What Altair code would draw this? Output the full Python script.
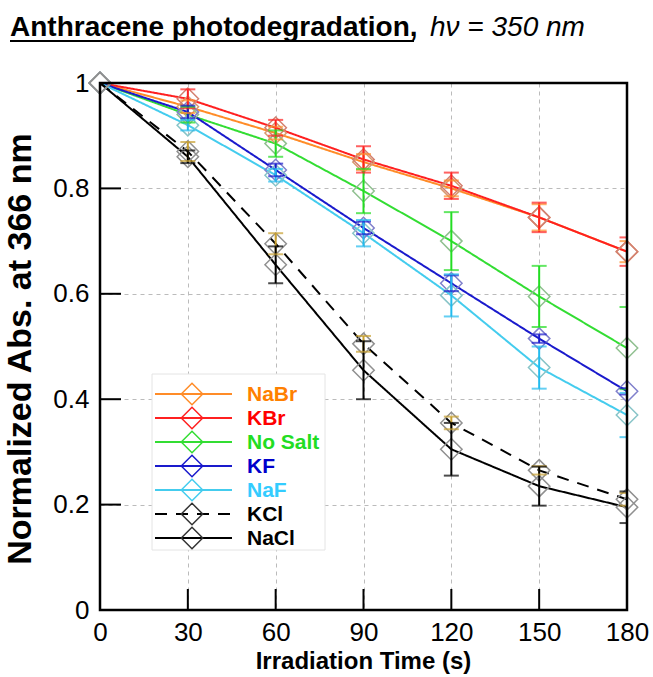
import altair as alt
import pandas as pd

# Irradiation times (s)
times = [0, 30, 60, 90, 120, 150, 180]

series = ["NaBr", "KBr", "No Salt", "KF", "NaF", "KCl", "NaCl"]

# Normalized absorbance at 366 nm
nabr = [1.0, 0.955, 0.905, 0.850, 0.800, 0.745, 0.680]
kbr = [1.0, 0.970, 0.915, 0.855, 0.805, 0.745, 0.680]
nosalt = [1.0, 0.940, 0.885, 0.795, 0.700, 0.595, 0.497]
kf = [1.0, 0.945, 0.835, 0.725, 0.620, 0.515, 0.415]
naf = [1.0, 0.920, 0.825, 0.715, 0.597, 0.460, 0.370]
kcl = [1.0, 0.870, 0.695, 0.505, 0.355, 0.265, 0.210]
nacl = [1.0, 0.860, 0.655, 0.455, 0.305, 0.235, 0.195]

# Half-widths of the error bars
nabr_err = [0, 0.012, 0.012, 0.015, 0.015, 0.025, 0.020]
kbr_err = [0, 0.018, 0.015, 0.025, 0.025, 0.028, 0.027]
nosalt_err = [0, 0.015, 0.025, 0.042, 0.055, 0.058, 0.078]
kf_err = [0, 0.012, 0.012, 0.012, 0.015, 0.008, 0.006]
naf_err = [0, 0.010, 0.012, 0.025, 0.040, 0.040, 0.042]
kcl_err = [0, 0.018, 0.020, 0.015, 0.012, 0.008, 0.012]
nacl_err = [0, 0.012, 0.035, 0.055, 0.050, 0.037, 0.030]

x_ticks = [30, 60, 90, 120, 150]
y_ticks = [0.2, 0.4, 0.6, 0.8]

values = [nabr, kbr, nosalt, kf, naf, kcl, nacl]
errors = [nabr_err, kbr_err, nosalt_err, kf_err, naf_err, kcl_err, nacl_err]

line_colors = ["#FF8C28", "#FF2020", "#33DD33", "#1A1ACC", "#44CCEE", "#000000", "#000000"]
err_colors = ["#FF8C28", "#FF2020", "#22DD22", "#1A1ACC", "#22BBEE", "#C8A030", "#000000"]
marker_colors = ["#D89A70", "#D48070", "#90C090", "#8080CC", "#88C4C8", "#909090", "#909090"]
label_colors = ["#FF8000", "#FF0000", "#22DD22", "#0000CC", "#33CCFF", "#000000", "#000000"]
dashes = [[1, 0], [1, 0], [1, 0], [1, 0], [1, 0], [12, 9], [1, 0]]

rows = []
for name, vals, errs in zip(series, values, errors):
    for t, v, e in zip(times, vals, errs):
        rows.append({"series": name, "t": t, "v": v, "lo": v - e, "hi": v + e})
df = pd.DataFrame(rows)

W, H = 527, 527
FONT = "Liberation Sans"

xs = alt.Scale(domain=[0, 180], nice=False)
ys = alt.Scale(domain=[0, 1], nice=False)

x_enc = alt.X("t:Q", scale=xs, axis=alt.Axis(
    values=times, title=None, ticks=False, domain=False, labelFontSize=26,
    labelPadding=9, labelColor="black", labelFont=FONT, labelFlush=False,
    labelOverlap=False, grid=True, gridDash=[4, 4], gridColor="#BBBBBB", gridWidth=1))
y_enc = alt.Y("v:Q", scale=ys, axis=alt.Axis(
    values=[0, 0.2, 0.4, 0.6, 0.8, 1.0], format=".1~f", title=None, ticks=False,
    domain=False, labelFontSize=26, labelPadding=11, labelColor="black",
    labelFont=FONT, labelFlush=False, labelOverlap=False,
    grid=True, gridDash=[4, 4], gridColor="#BBBBBB", gridWidth=1))

base = alt.Chart(df)

lines = base.mark_line(strokeWidth=2).encode(
    x=x_enc, y=y_enc,
    color=alt.Color("series:N", scale=alt.Scale(domain=series, range=line_colors), legend=None),
    strokeDash=alt.StrokeDash("series:N", scale=alt.Scale(domain=series, range=dashes), legend=None),
)

bars_src = base.transform_filter("datum.t > 0")
err_color = alt.Color("series:N", scale=alt.Scale(domain=series, range=err_colors), legend=None)
err_rules = bars_src.mark_rule(strokeWidth=2, clip=True).encode(
    x="t:Q", y="lo:Q", y2="hi:Q", color=err_color)
caps_lo = bars_src.mark_tick(orient="horizontal", size=15, thickness=2, clip=True).encode(
    x="t:Q", y="lo:Q", color=err_color)
caps_hi = bars_src.mark_tick(orient="horizontal", size=15, thickness=2, clip=True).encode(
    x="t:Q", y="hi:Q", color=err_color)

markers = base.mark_point(shape="diamond", size=460, filled=False, strokeWidth=1.5, opacity=1).encode(
    x="t:Q", y="v:Q",
    color=alt.Color("series:N", scale=alt.Scale(domain=series, range=marker_colors), legend=None),
)

# inward ticks along the bottom and left edges
xt = alt.Chart(pd.DataFrame({"t": x_ticks})).mark_rule(color="black", strokeWidth=2).encode(
    x="t:Q", y=alt.value(H), y2=alt.value(H - 21))
yt = alt.Chart(pd.DataFrame({"v": y_ticks})).mark_rule(color="black", strokeWidth=2).encode(
    y="v:Q", x=alt.value(0), x2=alt.value(21))

one = alt.Data(values=[{}])

# plot frame drawn above the grid
frame = alt.Chart(one).mark_rect(fill=None, stroke="black", strokeWidth=2.5).encode(
    x=alt.value(0), x2=alt.value(W), y=alt.value(0), y2=alt.value(H))

# legend box
legend_layers = [
    alt.Chart(one).mark_rect(fill="white", stroke="#E4E4E4", strokeWidth=1).encode(
        x=alt.value(52), x2=alt.value(225), y=alt.value(291), y2=alt.value(467))
]
for i, name in enumerate(series):
    yy = 311 + 24 * i
    legend_layers.append(alt.Chart(one).mark_rule(
        color=line_colors[i], strokeWidth=2, strokeDash=dashes[i]).encode(
        x=alt.value(55), x2=alt.value(132), y=alt.value(yy)))
    legend_layers.append(alt.Chart(one).mark_point(
        shape="diamond", size=460, filled=False, strokeWidth=1.5,
        color=line_colors[i] if i < 5 else "#333333", opacity=1).encode(
        x=alt.value(92), y=alt.value(yy)))
    legend_layers.append(alt.Chart(one).mark_text(
        text=name, align="left", baseline="middle", fontSize=21, fontWeight="bold",
        font=FONT, color=label_colors[i]).encode(x=alt.value(147), y=alt.value(yy + 1)))

# titles
title_main = alt.Chart(one).mark_text(
    text="Anthracene photodegradation,", align="left", baseline="alphabetic",
    fontSize=28, fontWeight="bold", font=FONT, color="black").encode(
    x=alt.value(-90), y=alt.value(-47))
title_rule = alt.Chart(one).mark_rule(color="black", strokeWidth=2).encode(
    x=alt.value(-90), x2=alt.value(314), y=alt.value(-42))
title_sub = alt.Chart(one).mark_text(
    text="h\u03bd = 350 nm", align="left", baseline="alphabetic",
    fontSize=28, fontStyle="italic", font=FONT, color="black").encode(
    x=alt.value(330), y=alt.value(-47))
x_title = alt.Chart(one).mark_text(
    text="Irradiation Time (s)", align="center", baseline="alphabetic",
    fontSize=24, fontWeight="bold", font=FONT, color="black").encode(
    x=alt.value(W / 2), y=alt.value(H + 59))
y_title = alt.Chart(one).mark_text(
    text="Normalized Abs. at 366 nm", align="center", baseline="middle", angle=270,
    fontSize=34, fontWeight="bold", font=FONT, color="black").encode(
    x=alt.value(-79), y=alt.value(266))

chart = alt.layer(
    lines, markers, err_rules, caps_lo, caps_hi, xt, yt, frame,
    *legend_layers, title_main, title_rule, title_sub, x_title, y_title,
).resolve_scale(color="independent").properties(
    width=W, height=H,
    autosize=alt.AutoSizeParams(type="none"),
    padding={"left": 100, "top": 83, "right": 26, "bottom": 67},
    background="white",
).configure_view(stroke=None)

chart.save("out.html", embed_options={"renderer": "svg", "actions": False})
